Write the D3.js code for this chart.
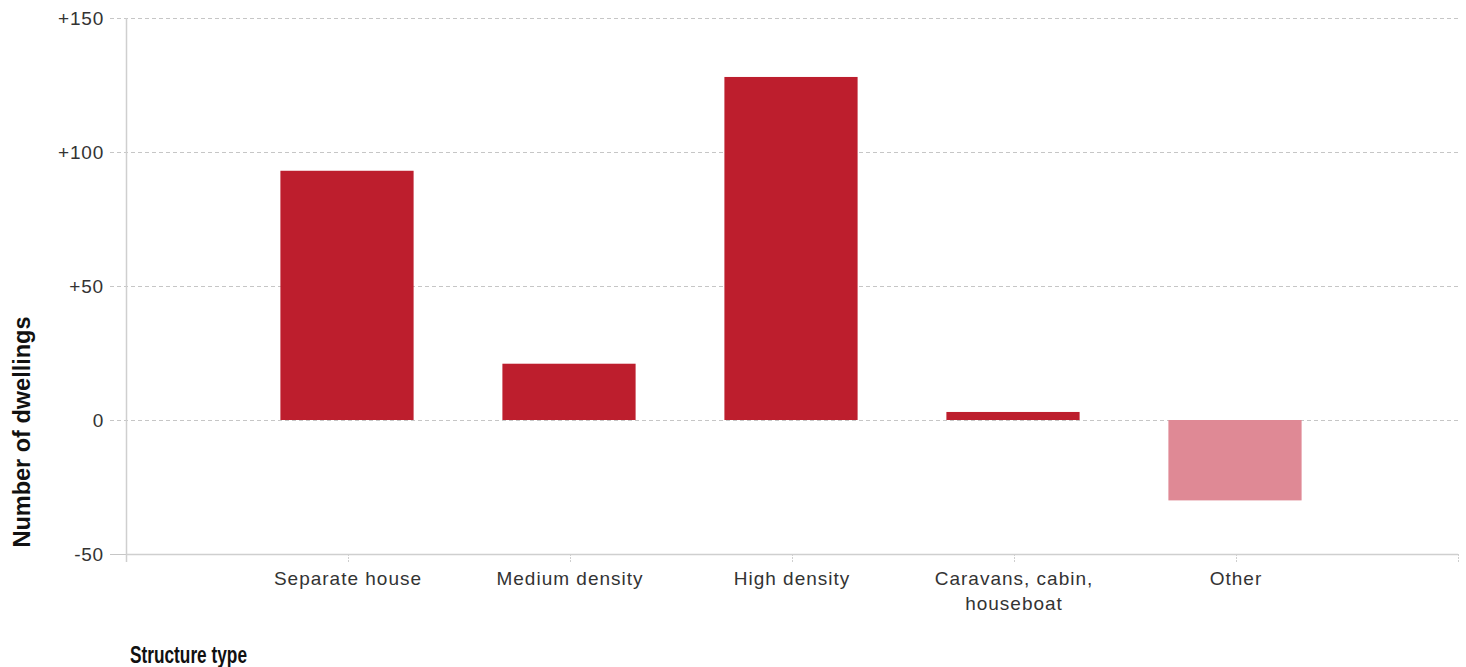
<!DOCTYPE html>
<html>
<head>
<meta charset="utf-8">
<script src="https://cdn.jsdelivr.net/npm/d3@7"></script>
<style>
  html, body { margin: 0; padding: 0; background: #fff; }
  svg { display: block; }
  text { font-family: "Liberation Sans", Arial, sans-serif; fill: #222; }
</style>
</head>
<body>
<svg id="chart" width="1466" height="667"></svg>
<script>
const categories = ["Separate house", "Medium density", "High density", "Caravans, cabin, houseboat", "Other"];
const categoryLines = [["Separate house"], ["Medium density"], ["High density"], ["Caravans, cabin,", "houseboat"], ["Other"]];
const values = [93, 21, 128, 3, -30];
const yTicks = [-50, 0, 50, 100, 150];
const yTickLabels = ["-50", "0", "+50", "+100", "+150"];
const yTitle = "Number of dwellings";
const xTitle = "Structure type";

const svg = d3.select("#chart");
const pLeft = 126, pRight = 1458, pTop = 18, pBottom = 554;

const x = d3.scalePoint().domain(categories).range([pLeft, pRight]).padding(1);
const y = d3.scaleLinear().domain([-50, 150]).range([pBottom, pTop]);
const barW = x.step() * 0.6;

// gridlines (dashed)
svg.append("g").selectAll("line")
  .data(yTicks.filter(d => d > -50))
  .join("line")
  .attr("x1", pLeft - 16).attr("x2", pRight)
  .attr("y1", d => y(d) + 0.5).attr("y2", d => y(d) + 0.5)
  .attr("stroke", "#c6c6c6").attr("stroke-width", 1)
  .attr("stroke-dasharray", "4,3");

// small tick at -50
svg.append("line")
  .attr("x1", pLeft - 16).attr("x2", pLeft)
  .attr("y1", y(-50) + 0.5).attr("y2", y(-50) + 0.5)
  .attr("stroke", "#c6c6c6").attr("stroke-width", 1);

// y tick labels
svg.append("g").selectAll("text")
  .data(yTicks)
  .join("text")
  .attr("x", 104)
  .attr("y", d => y(d))
  .attr("dy", "0.35em")
  .attr("text-anchor", "end")
  .style("font-size", "19px")
  .style("letter-spacing", "0.8px")
  .style("fill", "#333")
  .text((d, i) => yTickLabels[i]);

// bars
svg.append("g").selectAll("rect")
  .data(values)
  .join("rect")
  .attr("x", (d, i) => x(categories[i]) - barW / 2 - 1)
  .attr("width", barW)
  .attr("y", d => y(Math.max(0, d)))
  .attr("height", d => Math.abs(y(d) - y(0)))
  .attr("fill", (d, i) => d < 0 ? "#df8995" : "#bd1e2d");

// axis lines
svg.append("line")
  .attr("x1", pLeft + 0.5).attr("x2", pLeft + 0.5)
  .attr("y1", pTop).attr("y2", pBottom + 8)
  .attr("stroke", "#cfcfcf").attr("stroke-width", 1.5);
svg.append("line")
  .attr("x1", pLeft).attr("x2", pRight)
  .attr("y1", pBottom + 0.5).attr("y2", pBottom + 0.5)
  .attr("stroke", "#cfcfcf").attr("stroke-width", 1.5);

// x ticks
const tickXs = [pLeft].concat(categories.map(c => x(c))).concat([pRight]);
svg.append("g").selectAll("line")
  .data(tickXs)
  .join("line")
  .attr("x1", d => d + 0.5).attr("x2", d => d + 0.5)
  .attr("y1", pBottom).attr("y2", pBottom + 8)
  .attr("stroke", "#cfcfcf").attr("stroke-width", 1)
  .attr("stroke-dasharray", "2,1");

// x labels
const xl = svg.append("g").selectAll("text")
  .data(categories)
  .join("text")
  .attr("x", d => x(d))
  .attr("y", 585)
  .attr("text-anchor", "middle")
  .style("font-size", "19px")
  .style("letter-spacing", "1px")
  .style("fill", "#333");
xl.each(function(d, i) {
  const t = d3.select(this);
  categoryLines[i].forEach((line, j) => {
    t.append("tspan").attr("x", x(d)).attr("dy", j === 0 ? 0 : 25).text(line);
  });
});

// y axis title
svg.append("text")
  .attr("transform", "translate(30,432) rotate(-90)")
  .attr("text-anchor", "middle")
  .attr("textLength", 231)
  .attr("lengthAdjust", "spacingAndGlyphs")
  .style("font-size", "23px")
  .style("font-weight", "bold")
  .style("fill", "#111")
  .text(yTitle);

// x axis title
svg.append("text")
  .attr("x", 130)
  .attr("y", 663)
  .attr("textLength", 117)
  .attr("lengthAdjust", "spacingAndGlyphs")
  .style("font-size", "23px")
  .style("font-weight", "bold")
  .style("fill", "#111")
  .text(xTitle);
</script>
</body>
</html>
